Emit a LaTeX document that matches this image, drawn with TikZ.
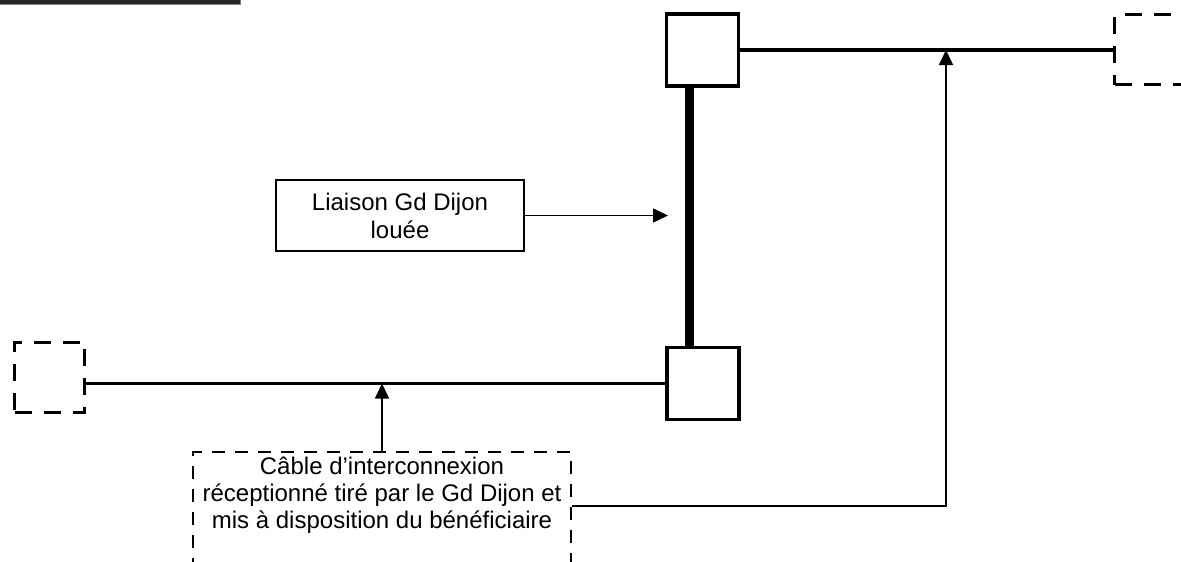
\documentclass[tikz,border=0pt]{standalone}
\usepackage{fontspec}
\setmainfont{Liberation Sans}
\usetikzlibrary{arrows.meta}
\begin{document}
\begin{tikzpicture}[x=1pt,y=-1pt,
  sqbox/.style={draw, line width=3.5pt, minimum size=72pt, inner sep=0pt},
  dbox/.style={draw, line width=3pt, dash pattern=on 17pt off 12pt, minimum width=70pt, minimum height=70pt, inner sep=0pt},
  mainline/.style={line width=3.5pt},
  thickbar/.style={line width=9pt},
  thinline/.style={line width=1.6pt},
  arr/.style={thinline, -{Triangle[length=15pt,width=14pt]}},
  notebox/.style={draw, line width=1.8pt, font=\fontsize{24}{28}\selectfont, align=center},
  cablebox/.style={draw, line width=2pt, dash pattern=on 13pt off 10pt, minimum width=378pt, minimum height=150pt, inner sep=0pt},
  cabletext/.style={font=\fontsize{24}{27}\selectfont, align=center, inner sep=0pt},
]
\useasboundingbox (0,0) rectangle (1181,562);
% top-left bar
\fill[black!85] (0,0) rectangle (240,3.5);
\draw[gray, line width=1.2pt] (240.6,0) -- (240.6,4.1) -- (0,4.1);

% squares
\node[sqbox] (sqA) at (702.5,50) {};
\node[sqbox] (sqB) at (703,383.5) {};
% dashed end boxes
\node[dbox] (dl) at (49.5,377) {};
\node[dbox, minimum width=80pt] (dr) at (1154.5,49.5) {};

% lines
\coordinate (bx) at (689.5,0);
\draw[thickbar] (sqA.south -| bx) -- (sqB.north -| bx);
\draw[mainline] (sqA.east) -- (sqA.east -| dr.west);
\draw[mainline] (sqB.west) -- (sqB.west -| dl.east);

% label box
\node[notebox, minimum width=248pt, minimum height=71pt] (li) at (400,215.5) {Liaison Gd Dijon\\louée};
\coordinate (liT) at (668,0);
\draw[arr] (li.east) -- (li.east -| liT);

% cable box
\node[cablebox, anchor=north] (cb) at (382,451) {};
\node[cabletext] (cbt) at (382,495) {Câble d’interconnexion\\réceptionné tiré par le Gd Dijon et\\mis à disposition du bénéficiaire};
\draw[arr] (cb.north) -- (cb.north |- sqB.west);
\coordinate (j) at (946,506);
\draw[arr] (cb.east |- j) -- (j) -- (j |- sqA.east);
\end{tikzpicture}
\end{document}
